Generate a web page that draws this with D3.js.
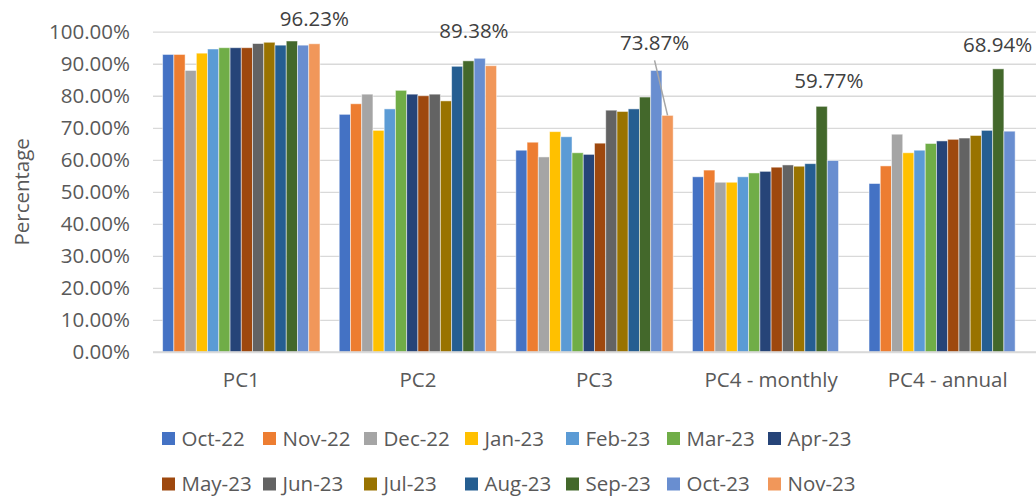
<!DOCTYPE html>
<html>
<head>
<meta charset="utf-8">
<script src="https://cdn.jsdelivr.net/npm/d3@7"></script>
<style>
  html, body { margin: 0; padding: 0; background: #fff; }
  svg { display: block; font-family: "Open Sans", "Liberation Sans", sans-serif; }
</style>
</head>
<body>
<svg id="chart" width="1036" height="497"></svg>
<script>
// ---- data ----
const categories = ["PC1", "PC2", "PC3", "PC4 - monthly", "PC4 - annual"];
const seriesNames = ["Oct-22", "Nov-22", "Dec-22", "Jan-23", "Feb-23", "Mar-23", "Apr-23",
                     "May-23", "Jun-23", "Jul-23", "Aug-23", "Sep-23", "Oct-23", "Nov-23"];
const seriesColors = ["#4472C4", "#ED7D31", "#A5A5A5", "#FFC000", "#5B9BD5", "#70AD47", "#264478",
                      "#9E480E", "#636363", "#997300", "#255E91", "#43682B", "#698ED0", "#F1975A"];
// values per category, in series order (null = no bar)
const valuesPC1       = [0.929, 0.929, 0.879, 0.933, 0.946, 0.950, 0.950, 0.950, 0.963, 0.967, 0.958, 0.971, 0.958, 0.9623];
const valuesPC2       = [0.742, 0.775, 0.805, 0.692, 0.759, 0.817, 0.805, 0.800, 0.805, 0.784, 0.892, 0.909, 0.917, 0.8938];
const valuesPC3       = [0.630, 0.655, 0.609, 0.688, 0.672, 0.622, 0.617, 0.652, 0.755, 0.751, 0.759, 0.796, 0.879, 0.7387];
const valuesPC4Month  = [0.547, 0.568, 0.530, 0.530, 0.547, 0.559, 0.564, 0.577, 0.584, 0.580, 0.588, 0.767, 0.5977, null];
const valuesPC4Annual = [0.526, 0.581, 0.680, 0.622, 0.630, 0.651, 0.659, 0.664, 0.668, 0.676, 0.692, 0.884, 0.6894, null];
const yTicks = [0, 0.1, 0.2, 0.3, 0.4, 0.5, 0.6, 0.7, 0.8, 0.9, 1.0];
// data labels: which series is labelled in each category
const labelSeries = ["Nov-23", "Nov-23", "Nov-23", "Oct-23", "Oct-23"];
const yAxisTitle = "Percentage";

// ---- layout ----
const labelNudge = [[0, -18], [-17, -28], [-13, -65], [-4, -73], [-12, -79.5]]; // px offsets of labels
const allValues = [valuesPC1, valuesPC2, valuesPC3, valuesPC4Month, valuesPC4Annual];
const plot = { left: 153, right: 1036, top: 31.7, bottom: 352 };
const fontSize = 20.5;
const textColor = "#595959";

const svg = d3.select("#chart");

const x0 = d3.scaleBand().domain(categories).range([plot.left, plot.right])
  .paddingInner(0.109).paddingOuter(0.0545);
const x1 = d3.scaleBand().domain(seriesNames).range([0, x0.bandwidth()]).padding(0);
const y = d3.scaleLinear().domain([0, 1]).range([plot.bottom, plot.top]);
const color = d3.scaleOrdinal().domain(seriesNames).range(seriesColors);

// gridlines
const yAxis = d3.axisLeft(y).tickValues(yTicks).tickFormat(d3.format(".2%"))
  .tickSize(-(plot.right - plot.left)).tickPadding(23);
const gy = svg.append("g").attr("transform", `translate(${plot.left},0)`).call(yAxis);
gy.select(".domain").remove();
gy.selectAll(".tick line").attr("stroke", "#D9D9D9").attr("stroke-width", 1.3);
gy.selectAll(".tick text").attr("fill", textColor).attr("font-size", fontSize)
  .attr("font-family", "'Open Sans', sans-serif");

// bars
const rows = [];
categories.forEach((c, ci) => {
  seriesNames.forEach((s, si) => {
    const v = allValues[ci][si];
    if (v !== null) rows.push({ cat: c, series: s, value: v });
  });
});
svg.append("g").selectAll("rect").data(rows).join("rect")
  .attr("x", d => x0(d.cat) + x1(d.series))
  .attr("y", d => y(d.value))
  .attr("width", x1.bandwidth())
  .attr("height", d => y(0) - y(d.value))
  .attr("fill", d => color(d.series))
  .attr("stroke", "rgba(255,255,255,0.55)")
  .attr("stroke-width", 0.9);

// bottom axis
const xAxis = d3.axisBottom(x0).tickSize(0).tickPadding(20);
const gx = svg.append("g").attr("transform", `translate(0,${plot.bottom})`).call(xAxis);
gx.select(".domain").attr("stroke", "#D9D9D9").attr("stroke-width", 1.3)
  .attr("d", `M${plot.left},0H${plot.right}`);
gx.selectAll(".tick text").attr("fill", textColor).attr("font-size", fontSize)
  .attr("font-family", "'Open Sans', sans-serif");

// y axis title
svg.append("text")
  .attr("transform", `translate(29,${(plot.top + plot.bottom) / 2}) rotate(-90)`)
  .attr("text-anchor", "middle")
  .attr("fill", textColor).attr("font-size", fontSize)
  .text(yAxisTitle);

// data labels
categories.forEach((c, ci) => {
  const s = labelSeries[ci];
  const v = allValues[ci][seriesNames.indexOf(s)];
  const bx = x0(c) + x1(s) + x1.bandwidth() / 2;
  const by = y(v);
  const lx = bx + labelNudge[ci][0];
  const ly = by + labelNudge[ci][1];
  if (ci === 2) {
    svg.append("line")
      .attr("x1", lx).attr("y1", ly + 10)
      .attr("x2", bx).attr("y2", by)
      .attr("stroke", "#A6A6A6").attr("stroke-width", 1.5);
  }
  svg.append("text")
    .attr("x", lx).attr("y", ly)
    .attr("text-anchor", "middle")
    .attr("fill", "#404040").attr("font-size", fontSize)
    .text(d3.format(".2%")(v));
});

// legend
const legendCols = 7;
const legendStart = 162, legendStep = 101;
const legendRowsY = [438.5, 484];
const lg = svg.append("g").selectAll("g").data(seriesNames).join("g")
  .attr("transform", (d, i) => `translate(${legendStart + (i % legendCols) * legendStep},${legendRowsY[Math.floor(i / legendCols)]})`);
lg.append("rect").attr("x", 0).attr("y", -6.5).attr("width", 13).attr("height", 13)
  .attr("fill", d => color(d));
lg.append("text").attr("x", 19.5).attr("y", 0).attr("dy", "0.35em")
  .attr("fill", textColor).attr("font-size", fontSize)
  .text(d => d);
</script>
</body>
</html>
